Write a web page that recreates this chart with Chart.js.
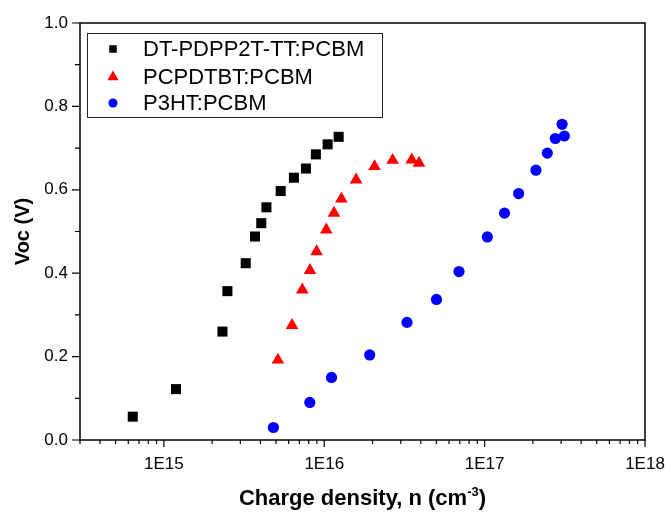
<!DOCTYPE html>
<html lang="en">
<head>
<meta charset="UTF-8">
<title>Voc vs charge density</title>
<script src="https://cdn.jsdelivr.net/npm/chart.js"></script>
<style>
  * { margin: 0; padding: 0; }
  body { background: #fff; }
</style>
</head>
<body>
<canvas id="myChart" width="671" height="514"></canvas>
<script>
// series names (legend)
const seriesNames = ['DT-PDPP2T-TT:PCBM', 'PCPDTBT:PCBM', 'P3HT:PCBM'];

// DT-PDPP2T-TT:PCBM (black squares)
const dtX = [6.4e14, 1.19e15, 2.32e15, 2.49e15, 3.24e15, 3.70e15, 4.05e15, 4.36e15, 5.35e15, 6.47e15, 7.69e15, 8.87e15, 1.05e16, 1.23e16];
const dtY = [0.056, 0.122, 0.260, 0.357, 0.424, 0.488, 0.520, 0.558, 0.597, 0.629, 0.651, 0.685, 0.709, 0.727];

// PCPDTBT:PCBM (red triangles)
const pcX = [5.14e15, 6.30e15, 7.30e15, 8.15e15, 8.96e15, 1.03e16, 1.15e16, 1.28e16, 1.58e16, 2.06e16, 2.67e16, 3.51e16, 3.90e16];
const pcY = [0.192, 0.275, 0.360, 0.407, 0.452, 0.504, 0.544, 0.578, 0.624, 0.656, 0.671, 0.672, 0.664];

// P3HT:PCBM (blue circles)
const p3X = [4.82e15, 8.13e15, 1.11e16, 1.92e16, 3.28e16, 5.01e16, 6.92e16, 1.04e17, 1.33e17, 1.63e17, 2.09e17, 2.46e17, 2.76e17, 3.04e17, 3.14e17];
const p3Y = [0.030, 0.090, 0.150, 0.204, 0.282, 0.337, 0.404, 0.487, 0.544, 0.591, 0.647, 0.688, 0.723, 0.757, 0.729];

// axis ticks
const xMajor = [1e15, 1e16, 1e17, 1e18];
const xTickLabels = ['1E15', '1E16', '1E17', '1E18'];
const xMin = 3e14, xMax = 1e18;

const xTickValues = [];
for (let e = 14; e < 18; e++) {
  for (let m = 1; m <= 9; m++) {
    const v = m * Math.pow(10, e);
    if (v >= xMin && v <= xMax) xTickValues.push(v);
  }
}
xTickValues.push(xMax);

const isMajorX = v => xMajor.findIndex(m => Math.abs(m - v) / m < 1e-6);
const toPts = (xs, ys) => xs.map((x, i) => ({x: x, y: ys[i]}));

const FONT = "'Liberation Sans', Arial, sans-serif";
Chart.defaults.font.family = FONT;
Chart.defaults.color = '#000';

const decor = {
  id: 'decor',
  afterDraw(chart) {
    const {ctx, chartArea: a, scales: {x, y}} = chart;
    ctx.save();
    // frame
    ctx.strokeStyle = '#000';
    ctx.lineWidth = 1.5;
    ctx.strokeRect(a.left, a.top, a.right - a.left, a.bottom - a.top);
    // tick marks
    ctx.lineWidth = 1.2;
    ctx.beginPath();
    x.ticks.forEach(t => {
      const px = x.getPixelForValue(t.value);
      const len = isMajorX(t.value) >= 0 ? 7 : 4;
      ctx.moveTo(px, a.bottom);
      ctx.lineTo(px, a.bottom + len);
    });
    y.ticks.forEach(t => {
      const py = y.getPixelForValue(t.value);
      const len = Math.round(t.value * 10) % 2 === 0 ? 8 : 5;
      ctx.moveTo(a.left, py);
      ctx.lineTo(a.left - len, py);
    });
    ctx.stroke();

    // axis titles
    ctx.fillStyle = '#000';
    ctx.textBaseline = 'middle';
    ctx.textAlign = 'center';
    ctx.save();
    ctx.translate(23, (a.top + a.bottom) / 2);
    ctx.rotate(-Math.PI / 2);
    ctx.font = 'bold 20px ' + FONT;
    ctx.fillText('Voc (V)', 0, 0);
    ctx.restore();

    const t1 = 'Charge density, n (cm', t2 = '-3', t3 = ')';
    const big = 'bold 22px ' + FONT, small = 'bold 13px ' + FONT;
    ctx.font = big;
    const w1 = ctx.measureText(t1).width, w3 = ctx.measureText(t3).width;
    ctx.font = small;
    const w2 = ctx.measureText(t2).width;
    let tx = (a.left + a.right) / 2 - (w1 + w2 + w3) / 2;
    const by = 505;
    ctx.textAlign = 'left';
    ctx.textBaseline = 'alphabetic';
    ctx.font = big;
    ctx.fillText(t1, tx, by);
    tx += w1;
    ctx.font = small;
    ctx.fillText(t2, tx, by - 9);
    tx += w2;
    ctx.font = big;
    ctx.fillText(t3, tx, by);

    // legend
    const lx = a.left + 7, ly = a.top + 10;
    ctx.lineWidth = 1;
    ctx.strokeStyle = '#222';
    ctx.strokeRect(lx + 0.5, ly + 0.5, 295, 84);
    ctx.font = '22px ' + FONT;
    ctx.textBaseline = 'middle';
    const rows = [ly + 16, ly + 44, ly + 70];
    const mx = lx + 26;
    chart.data.datasets.forEach((ds, i) => {
      const ry = rows[i];
      ctx.fillStyle = ds.backgroundColor;
      ctx.beginPath();
      if (ds.pointStyle === 'rect') {
        ctx.rect(mx - 3.75, ry - 3.75, 7.5, 7.5);
      } else if (ds.pointStyle === 'triangle') {
        const r = 6.5;
        ctx.moveTo(mx, ry - r);
        ctx.lineTo(mx + r * 0.866, ry + r / 2);
        ctx.lineTo(mx - r * 0.866, ry + r / 2);
        ctx.closePath();
      } else {
        ctx.arc(mx, ry, 4.5, 0, Math.PI * 2);
      }
      ctx.fill();
      ctx.fillStyle = '#000';
      ctx.fillText(seriesNames[i], lx + 56, ry + 1);
    });
    ctx.restore();
  }
};

const config = {
  type: 'scatter',
  data: {
    datasets: [
      {
        label: seriesNames[0],
        data: toPts(dtX, dtY),
        pointStyle: 'rect',
        pointRadius: 7.1,
        backgroundColor: '#000000',
        borderWidth: 0
      },
      {
        label: seriesNames[1],
        data: toPts(pcX, pcY),
        pointStyle: 'triangle',
        pointRadius: 7.3,
        backgroundColor: '#ff0000',
        borderWidth: 0
      },
      {
        label: seriesNames[2],
        data: toPts(p3X, p3Y),
        pointStyle: 'circle',
        pointRadius: 5.6,
        backgroundColor: '#0000ff',
        borderWidth: 0
      }
    ]
  },
  plugins: [decor],
  options: {
    responsive: false,
    animation: false,
    layout: { padding: { left: 0, top: 23, right: 26, bottom: 0 } },
    plugins: {
      legend: { display: false },
      tooltip: { enabled: false }
    },
    scales: {
      x: {
        type: 'logarithmic',
        min: xMin,
        max: xMax,
        grid: { display: false, drawTicks: false },
        border: { display: false },
        afterBuildTicks(scale) {
          scale.ticks = xTickValues.map(v => ({value: v}));
        },
        afterFit(scale) {
          scale.height = 74;
          scale.paddingLeft = 0;
          scale.paddingRight = 0;
        },
        ticks: {
          autoSkip: false,
          maxRotation: 0,
          padding: 14,
          font: { size: 17 },
          callback(v) {
            const i = isMajorX(v);
            return i >= 0 ? xTickLabels[i] : '';
          }
        }
      },
      y: {
        min: 0,
        max: 1,
        grid: { display: false, drawTicks: false },
        border: { display: false },
        afterFit(scale) {
          scale.width = 80;
          scale.paddingTop = 0;
          scale.paddingBottom = 0;
        },
        ticks: {
          stepSize: 0.1,
          padding: 12,
          font: { size: 17 },
          callback(v) {
            return Math.round(v * 10) % 2 === 0 ? v.toFixed(1) : '';
          }
        }
      }
    }
  }
};

new Chart(document.getElementById('myChart'), config);
</script>
</body>
</html>
